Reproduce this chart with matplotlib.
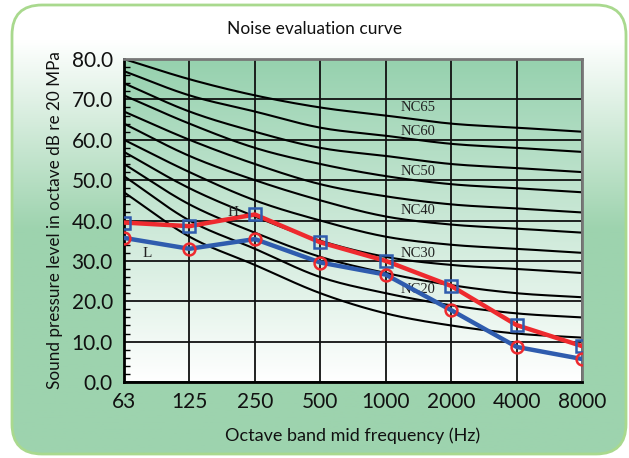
import numpy as np
import matplotlib
matplotlib.use("Agg")
import matplotlib.pyplot as plt
from matplotlib.patches import FancyBboxPatch
from matplotlib.colors import LinearSegmentedColormap
from matplotlib.ticker import MultipleLocator, FormatStrFormatter

plt.rcParams['font.family'] = ['Lato', 'DejaVu Sans']

freqs = ['63', '125', '250', '500', '1000', '2000', '4000', '8000']

# NC reference curves (dB at each octave band)
nc_levels = [15, 20, 25, 30, 35, 40, 45, 50, 55, 60, 65]
nc_curves = [
    [47, 36, 29, 22, 17, 14, 12, 11],
    [51, 40, 33, 26, 22, 19, 17, 16],
    [54, 44, 37, 31, 27, 24, 22, 21],
    [57, 48, 41, 35, 31, 29, 28, 27],
    [60, 52, 45, 40, 36, 34, 33, 32],
    [64, 56, 50, 45, 41, 39, 38, 37],
    [67, 60, 54, 49, 46, 44, 43, 42],
    [71, 64, 58, 54, 51, 49, 48, 47],
    [74, 67, 62, 58, 56, 54, 53, 52],
    [77, 71, 67, 63, 61, 59, 58, 57],
    [80, 75, 71, 68, 66, 64, 63, 62],
]
nc_labels = ['NC65', 'NC60', 'NC50', 'NC40', 'NC30', 'NC20']
nc_label_y = [67.9, 62.0, 52.2, 42.6, 31.9, 23.0]

high = [39.5, 38.6, 41.5, 34.6, 30.0, 23.8, 14.1, 8.9]
low = [35.7, 33.0, 35.4, 29.6, 26.6, 17.8, 8.7, 5.7]


def smooth(y, n=20):
    # Catmull-Rom style curve through the points (like a smoothed line)
    y = np.asarray(y, float)
    x = np.arange(len(y), dtype=float)
    p = np.concatenate([[2 * y[0] - y[1]], y, [2 * y[-1] - y[-2]]])
    xs, ys = [], []
    for i in range(len(y) - 1):
        t = np.linspace(0, 1, n, endpoint=False)
        p0, p1, p2, p3 = p[i], p[i + 1], p[i + 2], p[i + 3]
        yy = 0.5 * ((2 * p1) + (-p0 + p2) * t + (2 * p0 - 5 * p1 + 4 * p2 - p3) * t ** 2
                    + (-p0 + 3 * p1 - 3 * p2 + p3) * t ** 3)
        xs.append(x[i] + t)
        ys.append(yy)
    xs.append([x[-1]])
    ys.append([y[-1]])
    return np.concatenate(xs), np.concatenate(ys)


fig = plt.figure(figsize=(6.29, 4.58), dpi=100)
fig.patch.set_facecolor('white')

# outer rounded panel with gradient fill
bg = fig.add_axes([0, 0, 1, 1], zorder=-10)
bg.set_xlim(0, 629)
bg.set_ylim(458, 0)
bg.axis('off')
panel_cmap = LinearSegmentedColormap.from_list('panel', [(0, '#ffffff'), (0.08, '#ffffff'), (0.5, '#9dd3ae'), (1, '#9dd3ae')])
grad = np.linspace(0, 1, 256).reshape(-1, 1)
im = bg.imshow(grad, cmap=panel_cmap, extent=[11, 627, 455, 4], aspect='auto')
box = FancyBboxPatch((12, 5), 614, 449, boxstyle='round,pad=0,rounding_size=30',
                     facecolor='none', edgecolor='#a9d98e', linewidth=2)
bg.add_patch(box)
im.set_clip_path(box)

ax = fig.add_axes([0.1971, 0.1659, 0.7282, 0.7052])
plot_cmap = LinearSegmentedColormap.from_list('plot', ['#96d1ae', '#ffffff'])
ax.imshow(grad, cmap=plot_cmap, extent=[0, 7, 0, 80], aspect='auto', zorder=0)

x = np.arange(len(freqs))
for c in nc_curves:
    sx, sy = smooth(c)
    ax.plot(sx, sy, color='black', lw=1.5, zorder=2)

for lab, yy in zip(nc_labels, nc_label_y):
    ax.text(4.5, yy, lab, fontsize=10.5, family='Liberation Serif', color='#222222',
            ha='center', va='center', zorder=3)

ax.plot(x, high, color='#ee2a2e', lw=3.2, zorder=4,
        marker='s', ms=8, mfc='none', mec='#2f5cae', mew=1.8)
ax.plot(x, low, color='#2f5cae', lw=3.2, zorder=4,
        marker='o', ms=8.5, mfc='none', mec='#ee2a2e', mew=1.8)
ax.text(1.66, 41.9, 'H', fontsize=11, family='Liberation Serif', color='#222222', ha='center', va='center', zorder=5)
ax.text(0.36, 31.9, 'L', fontsize=11, family='Liberation Serif', color='#222222', ha='center', va='center', zorder=5)

ax.set_xlim(0, 7)
ax.set_ylim(0, 80)
ax.set_xticks(x)
ax.set_xticklabels(freqs)
ax.yaxis.set_major_locator(MultipleLocator(10))
ax.yaxis.set_minor_locator(MultipleLocator(2))
ax.yaxis.set_major_formatter(FormatStrFormatter('%.1f'))
ax.tick_params(axis='both', which='major', labelsize=15, colors='#111111')
ax.tick_params(axis='x', length=0, pad=7)
ax.tick_params(axis='y', which='major', length=0, pad=8)
ax.tick_params(axis='y', which='minor', direction='in', length=4, width=1)
ax.grid(True, which='major', color='#111111', lw=1.3, zorder=1)
ax.set_axisbelow(True)
for s in ['left', 'bottom']:
    ax.spines[s].set_linewidth(2)
    ax.spines[s].set_color('black')
for s in ['top', 'right']:
    ax.spines[s].set_linewidth(2)
    ax.spines[s].set_color('#777777')

ax.set_xlabel('Octave band mid frequency (Hz)', fontsize=13, labelpad=11, color='#111111')
ax.set_ylabel('Sound pressure level in octave dB re 20 MPa', fontsize=12.3, labelpad=6, color='#111111')
fig.text(0.5, 0.937, 'Noise evaluation curve', ha='center', va='center', fontsize=12.5, color='#111111')

fig.savefig('out.png', dpi=100)
